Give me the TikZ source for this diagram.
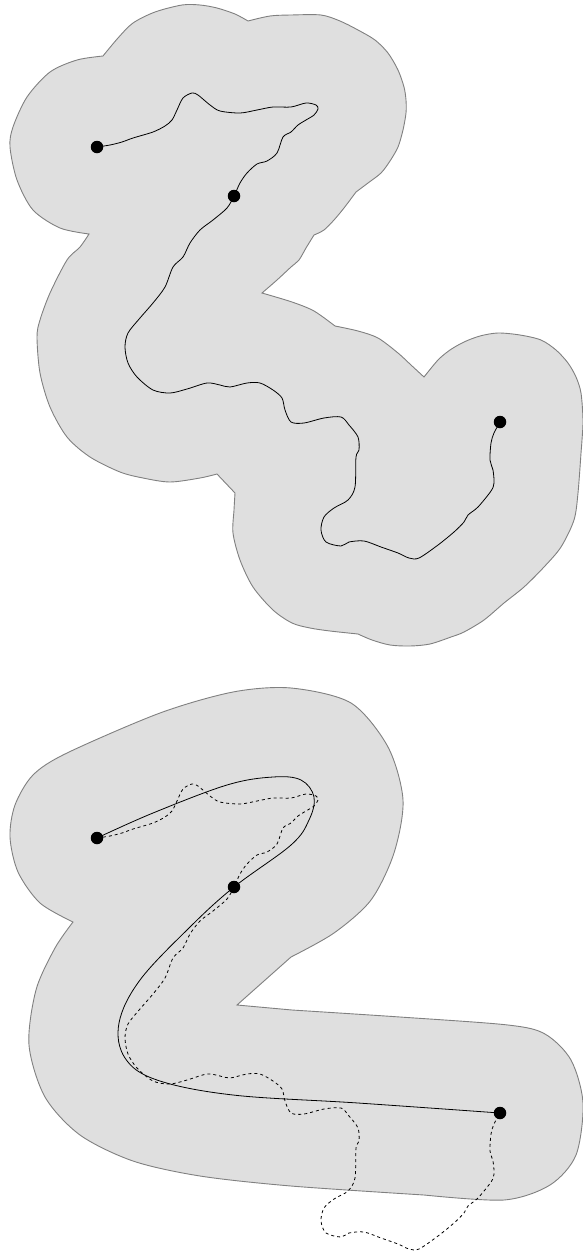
\documentclass[tikz,border=0pt]{standalone}
\usepackage{tikz}

% random walk through three marked points
\newcommand{\walkpath}[3]{plot[smooth,tension=0.5] coordinates {(#1.center) (110,145) (122,142) (133,138) (153,132) (165,126) (172,120) (177,110) (183,98) (192,93) (198,95) (210,105) (220,111) (240,113) (257,110) (273,107) (291,107) (306,103) (316,105) (318,109) (314,115) (306,120) (298,125) (291,132) (283,137) (277,153) (267,161) (257,164) (247,173) (240,183) (#2.center) (227,208) (213,220) (200,230) (190,243) (183,257) (173,267) (165,287) (153,303) (140,318) (128,333) (125,347) (128,363) (137,377) (153,390) (170,393) (187,389) (207,383) (220,385) (230,387) (247,383) (260,383) (273,390) (282,398) (285,410) (291,422) (304,423) (324,418) (341,417) (349,425) (358,437) (359,450) (356,457) (355,487) (348,500) (334,508) (324,517) (321,530) (326,542) (341,546) (349,542) (364,541) (381,547) (398,553) (409,558) (419,558) (438,545) (454,532) (464,522) (468,515) (478,507) (491,491) (494,483) (493,470) (490,460) (491,443) (494,433) (#3.center)}}

\begin{document}
\begin{tikzpicture}[x=1pt, y=-1pt,
    zone/.style={fill=gray!25, draw=gray, line width=0.9pt},
    walk/.style={line width=0.8pt},
    dot/.style={circle, fill=black, inner sep=0pt, minimum size=12.5pt}]
    \useasboundingbox (0,0) rectangle (583,1253);

    % Top: union of discs round the walk
    \draw[zone] plot[smooth] coordinates {(103,56) (118,38) (133,23) (155,12) (182,5) (200,5) (217,8) (235,14) (248,21)}
        -- plot[smooth] coordinates {(248,21) (270,16) (291,15) (321,15) (340,21) (358,30) (375,40) (388,53) (398,70) (404,87) (406,100) (406,113) (403,130) (398,147) (390,161) (381,173) (368,183) (356,192)}
        -- plot[smooth] coordinates {(356,192) (344,208) (334,220) (324,230) (314,235)}
        -- plot[smooth] coordinates {(314,235) (306,248) (299,260) (291,267) (277,280) (262,293)}
        -- plot[smooth] coordinates {(262,293) (292,302) (314,311) (335,326)}
        -- plot[smooth] coordinates {(335,326) (358,331) (378,338) (398,353) (411,365) (424,377)}
        -- plot[smooth] coordinates {(424,377) (438,360) (450,350) (464,342) (480,336) (498,333) (520,335) (541,340) (556,350) (568,363) (576,377) (581,393) (583,420) (582,440) (581,453)}
        -- plot[smooth] coordinates {(581,453) (578,493) (574,520) (561,547) (544,567) (524,587) (504,603) (484,620) (464,632) (451,637) (430,644) (410,646) (390,645) (372,640) (358,634)}
        -- plot[smooth] coordinates {(358,634) (330,631) (310,628) (292,623) (273,610) (253,587) (240,560) (233,533) (234,510) (235,493)}
        -- plot[smooth] coordinates {(217,474) (200,478) (170,482) (143,478) (120,472) (90,457) (67,437) (50,407) (40,373) (37,337) (40,320) (50,293) (67,260) (80,247) (89,234)}
        -- plot[smooth] coordinates {(89,234) (60,228) (33,210) (17,180) (10,147) (13,127) (27,97) (50,72) (77,60) (103,56)}
        -- cycle;

    % Bottom: tube round the smoothed curve
    \draw[zone] plot[smooth] coordinates {(73,922) (40,903) (18,872) (10,837) (15,805) (33,775) (67,753) (160,713) (233,692) (291,688) (351,703) (388,747) (403,800) (394,853) (371,900) (334,933) (291,957)}
        -- (237,1005) -- (292,1010)
        -- plot[smooth] coordinates {(292,1010) (400,1017) (508,1025) (545,1034) (571,1060) (583,1103) (576,1155) (550,1185) (504,1200) (424,1195)}
        -- plot[smooth] coordinates {(424,1195) (291,1186) (200,1176) (133,1161) (80,1135) (45,1097) (29,1045) (36,990) (55,948) (73,922)}
        -- cycle;

    % Points
    \node[dot] (src) at (97,147) {};
    \node[dot] (via) at (234,196) {};
    \node[dot] (dst) at (500,422) {};
    \node[dot] (src2) at (97,838) {};
    \node[dot] (via2) at (234,887) {};
    \node[dot] (dst2) at (500,1113) {};

    % Walks
    \draw[walk] \walkpath{src}{via}{dst};
    \draw[walk, dashed, shift={(0,691)}] \walkpath{src2}{via2}{dst2};
    \draw[walk] plot[smooth, tension=0.6] coordinates {(src2.center) (153,813) (227,785) (273,777) (301,780) (314,797) (309,820) (291,845) (via2.center) (190,927) (140,980) (119,1023) (125,1058) (157,1080) (233,1095) (358,1103) (dst2.center)};
\end{tikzpicture}
\end{document}
